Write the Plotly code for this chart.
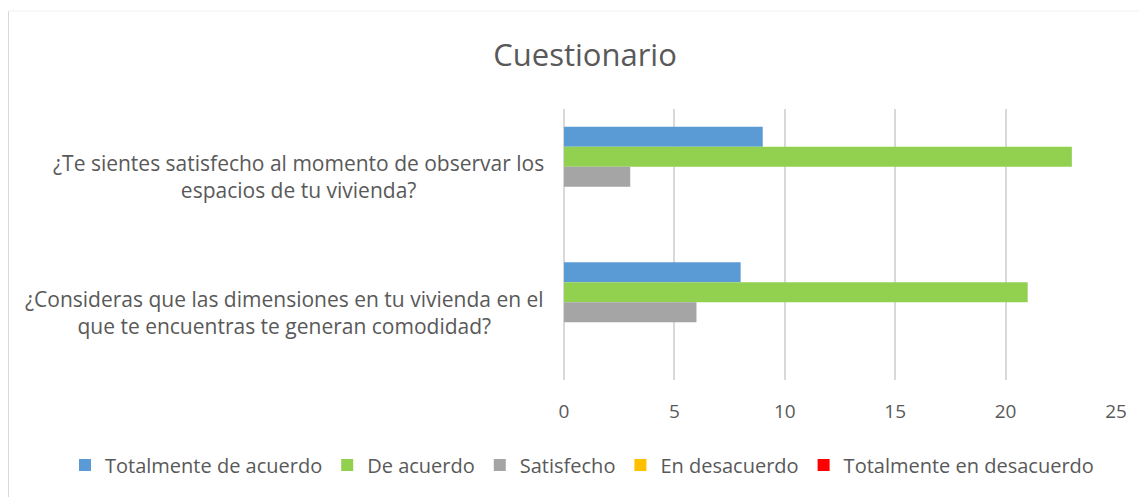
import plotly.graph_objects as go

categories = [
    "¿Te sientes satisfecho al momento de observar los<br>espacios de tu vivienda?",
    "¿Consideras que las dimensiones en tu vivienda en el<br>que te encuentras te generan comodidad?",
]
series_names = ["Totalmente de acuerdo", "De acuerdo", "Satisfecho", "En desacuerdo", "Totalmente en desacuerdo"]
totalmente_de_acuerdo = [9, 8]
de_acuerdo = [23, 21]
satisfecho = [3, 6]
en_desacuerdo = [0, 0]
totalmente_en_desacuerdo = [0, 0]
series_values = [totalmente_de_acuerdo, de_acuerdo, satisfecho, en_desacuerdo, totalmente_en_desacuerdo]
colors = ["#5B9BD5", "#92D050", "#A5A5A5", "#FFC000", "#FF0000"]
x_ticks = [0, 5, 10, 15, 20, 25]

# page has an 8px body margin, so the figure is drawn 8px smaller
W, H = 1139, 489
L, R, T, B = 556, 31, 101, 117
PW, PH = W - L - R, H - T - B
FONT = "Open Sans"
TXT = "#595959"

def px_x(fx):
    return (fx - L) / PW

def px_y(fy):
    return 1 - (fy - T) / PH

fig = go.Figure()
for name, vals, col in zip(series_names, series_values, colors):
    fig.add_trace(go.Bar(
        y=categories, x=vals, name=name, orientation="h",
        marker=dict(color=col, line=dict(width=0)),
    ))

annotations = []
for c in categories:
    annotations.append(dict(
        text=c, xref="paper", yref="y", x=px_x(538), y=c,
        xanchor="right", yanchor="middle", align="center", showarrow=False,
        font=dict(family=FONT, size=21, color=TXT),
    ))

fig.update_layout(
    width=W, height=H,
    margin=dict(l=L, r=R, t=T, b=B, autoexpand=False),
    paper_bgcolor="white", plot_bgcolor="white",
    barmode="group", bargap=0.262, bargroupgap=0,
    title=dict(text="Cuestionario", x=577 / W, xanchor="center", y=1 - 47 / H, yanchor="middle",
               font=dict(family=FONT, size=31, color=TXT)),
    xaxis=dict(range=[0, 25], tickvals=x_ticks, showgrid=True, gridcolor="#D9D9D9", gridwidth=1.5,
               zeroline=True, zerolinecolor="#D9D9D9", zerolinewidth=1.5, showline=False,
               ticks="", tickfont=dict(family=FONT, size=19, color=TXT), ticklabelstandoff=18),
    yaxis=dict(autorange="reversed", showticklabels=False, showgrid=False, zeroline=False, ticks=""),
    legend=dict(orientation="h", xref="paper", x=px_x(57), xanchor="left", yref="paper", y=px_y(457),
                yanchor="middle", font=dict(family=FONT, size=20, color=TXT), itemwidth=30,
                traceorder="normal", itemclick=False),
    annotations=annotations,
    shapes=[
        dict(type="line", xref="paper", yref="paper", x0=px_x(0), x1=px_x(0),
             y0=px_y(3), y1=px_y(H), line=dict(color="#D9D9D9", width=2)),
        dict(type="line", xref="paper", yref="paper", x0=px_x(0), x1=px_x(W),
             y0=px_y(3), y1=px_y(3), line=dict(color="#F2F2F2", width=1)),
    ],
)

fig.write_html("out.html")
